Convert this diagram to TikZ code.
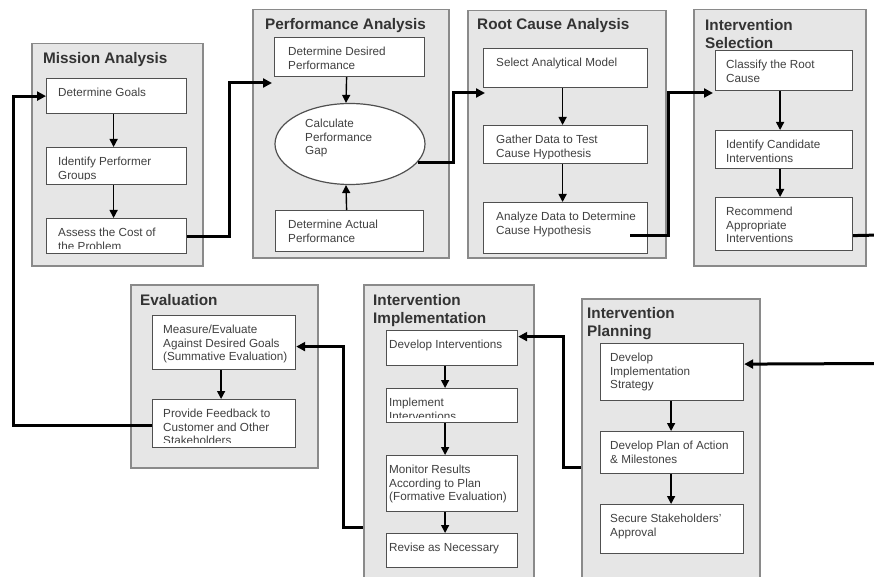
\documentclass[tikz,border=0pt]{standalone}
\usepackage{fontspec}
\setmainfont{Liberation Sans}
\usetikzlibrary{arrows.meta,shapes.geometric}

\definecolor{panelfill}{HTML}{E6E6E6}
\definecolor{panelline}{HTML}{8A8A8A}
\definecolor{boxline}{HTML}{505050}
\definecolor{steptxt}{HTML}{404040}
\definecolor{titletxt}{HTML}{333333}

\tikzset{
  panel/.style={draw=panelline, fill=panelfill, line width=1.5pt, inner sep=0pt, anchor=north west},
  stepbox/.style={draw=boxline, fill=white, line width=1.2pt, inner sep=0pt, anchor=north west},
  steptext/.style={text=steptxt, font=\fontsize{11.7}{13.5}\selectfont, align=left, inner sep=0pt, anchor=north west},
  paneltitle/.style={text=titletxt, font=\fontsize{15.3}{18}\selectfont\bfseries, align=left, inner sep=0pt, anchor=north west},
  flow/.style={draw=black, line width=1.4pt, -{Triangle[length=8pt,width=8pt]}},
  link/.style={draw=black, line width=3pt, -{Triangle[length=9pt,width=9pt]}},
  linkplain/.style={draw=black, line width=3pt},
}

% panel: name, x1, y1, x2, y2
\newcommand\mkpanel[5]{%
  \node[panel, minimum width={(#4-#2)*1pt}, minimum height={(#5-#3)*1pt}] (#1) at (#2,#3) {};}
% step box: name, x1, y1, x2, y2, text x, text (text is cut off at the box's inner bottom)
\newcommand\mkstep[7]{%
  \node[stepbox, minimum width={(#4-#2)*1pt}, minimum height={(#5-#3)*1pt}] (#1) at (#2,#3) {};
  \begin{scope}
    \clip ([yshift=6pt]#1.south west) rectangle (#1.north east);
    \node[steptext] (#1-text) at (#6,#3+10) {#7};
  \end{scope}}

\begin{document}
\begin{tikzpicture}[x=1pt,y=-1pt]
  \clip (0,0) rectangle (874,577);
  \fill[white] (0,0) rectangle (874,577);

  % ---- panels ----
  \mkpanel{p-ma}{31}{43}{202}{265}
  \mkpanel{p-pa}{252}{9}{448}{257}
  \mkpanel{p-rc}{467}{10}{665}{257}
  \mkpanel{p-is}{693}{9}{865}{265}
  \mkpanel{p-ev}{130}{284}{317}{467}
  \mkpanel{p-ii}{363}{284}{533}{600}
  \mkpanel{p-ip}{581}{298}{759}{600}

  % ---- panel titles ----
  \node[paneltitle] (t-ma) at (43,52) {Mission Analysis};
  \node[paneltitle] (t-pa) at (265,18) {Performance Analysis};
  \node[paneltitle] (t-rc) at (477,18) {Root Cause Analysis};
  \node[paneltitle] (t-is) at (705,19) {Intervention\\Selection};
  \node[paneltitle] (t-ev) at (140,294) {Evaluation};
  \node[paneltitle] (t-ii) at (373,294) {Intervention\\Implementation};
  \node[paneltitle] (t-ip) at (587,307) {Intervention\\Planning};

  % ---- Mission Analysis ----
  \mkstep{ma1}{46}{78}{186}{113}{58}{Determine Goals}
  \mkstep{ma2}{46}{147}{186}{184}{58}{Identify Performer\\Groups}
  \mkstep{ma3}{46}{218}{186}{253}{58}{Assess the Cost of\\the Problem}

  % ---- Performance Analysis ----
  \mkstep{pa1}{274}{37}{424}{76}{288}{Determine Desired\\Performance}
  \node[ellipse, draw=boxline, fill=white, line width=1.2pt, minimum width=150pt, minimum height=81pt, inner sep=0pt] (pa-gap) at (350,144) {};
  \node[steptext] (pa-gap-text) at (305,119) {Calculate\\Performance\\Gap};
  \mkstep{pa3}{275}{210}{423}{251}{288}{Determine Actual\\Performance}

  % ---- Root Cause Analysis ----
  \mkstep{rc1}{483}{48}{647}{87}{496}{Select Analytical Model}
  \mkstep{rc2}{483}{125}{647}{163}{496}{Gather Data to Test\\Cause Hypothesis}
  \mkstep{rc3}{483}{202}{647}{253}{496}{Analyze Data to Determine\\Cause Hypothesis}

  % ---- Intervention Selection ----
  \mkstep{is1}{715}{50}{852}{90}{726}{Classify the Root\\Cause}
  \mkstep{is2}{715}{130}{852}{168}{726}{Identify Candidate\\Interventions}
  \mkstep{is3}{715}{197}{852}{250}{726}{Recommend\\Appropriate\\Interventions}

  % ---- Evaluation ----
  \mkstep{ev1}{152}{315}{295}{369}{163}{Measure/Evaluate\\Against Desired Goals\\(Summative Evaluation)}
  \mkstep{ev2}{152}{399}{295}{447}{163}{Provide Feedback to\\Customer and Other\\Stakeholders}

  % ---- Intervention Implementation ----
  \mkstep{ii1}{386}{330}{517}{365}{389}{Develop Interventions}
  \mkstep{ii2}{386}{388}{517}{422}{389}{Implement\\Interventions}
  \mkstep{ii3}{386}{455}{517}{511}{389}{Monitor Results\\According to Plan\\(Formative Evaluation)}
  \mkstep{ii4}{386}{533}{517}{567}{389}{Revise as Necessary}

  % ---- Intervention Planning ----
  \mkstep{ip1}{600}{343}{743}{400}{610}{Develop\\Implementation\\Strategy}
  \mkstep{ip2}{600}{431}{743}{473}{610}{Develop Plan of Action\\\& Milestones}
  \mkstep{ip3}{600}{504}{743}{553}{610}{Secure Stakeholders'\\Approval}

  % ---- steps inside each phase ----
  \draw[flow] ([xshift=-3pt]ma1.south) -- ([xshift=-3pt]ma2.north);
  \draw[flow] ([xshift=-3pt]ma2.south) -- ([xshift=-3pt]ma3.north);
  \draw[flow] ([xshift=-3pt]pa1.south) -- ([xshift=-4pt]pa-gap.north);
  \draw[flow] ([xshift=-3pt]pa3.north) -- ([xshift=-4pt]pa-gap.south);
  \draw[flow] ([xshift=-3pt]rc1.south) -- ([xshift=-3pt]rc2.north);
  \draw[flow] ([xshift=-3pt]rc2.south) -- ([xshift=-3pt]rc3.north);
  \draw[flow] ([xshift=-4pt]is1.south) -- ([xshift=-4pt]is2.north);
  \draw[flow] ([xshift=-4pt]is2.south) -- ([xshift=-4pt]is3.north);
  \draw[flow] ([xshift=-3pt]ev1.south) -- ([xshift=-3pt]ev2.north);
  \draw[flow] ([xshift=-7pt]ii1.south) -- ([xshift=-7pt]ii2.north);
  \draw[flow] ([xshift=-7pt]ii2.south) -- ([xshift=-7pt]ii3.north);
  \draw[flow] ([xshift=-7pt]ii3.south) -- ([xshift=-7pt]ii4.north);
  \draw[flow] ([xshift=-1pt]ip1.south) -- ([xshift=-1pt]ip2.north);
  \draw[flow] ([xshift=-1pt]ip2.south) -- ([xshift=-1pt]ip3.north);

  % ---- links between phases ----
  \coordinate (pa-in) at (272,83);
  \coordinate (rc-in) at (485,93);
  \coordinate (is-in) at (713,93);
  \coordinate (rc-out) at (630,235);
  \coordinate (is-off) at (880,235);
  \coordinate (ip-off) at (880,363.5);
  \coordinate (ip-out) at (581,467);
  \coordinate (ii-out) at (363,527);

  \draw[link] (ma3.east) -- ++(42,0) |- (pa-in);
  \draw[link] (pa-gap.-15) -- ++(36,0) |- (rc-in);
  \draw[link] (rc-out) -- ++(38,0) |- (is-in);
  \draw[linkplain] ([yshift=-11.5pt]is3.east) -- (is-off);
  \draw[link] (ip-off) -- ([yshift=8pt]ip1.east);
  \draw[link] (ip-out) -- ++(-18,0) |- ([yshift=11.5pt]ii1.east);
  \draw[link] (ii-out) -- ++(-20,0) |- ([yshift=-4pt]ev1.east);
  \draw[link] ([yshift=-2pt]ev2.west) -- ++(-139,0) |- (ma1.west);
\end{tikzpicture}
\end{document}
